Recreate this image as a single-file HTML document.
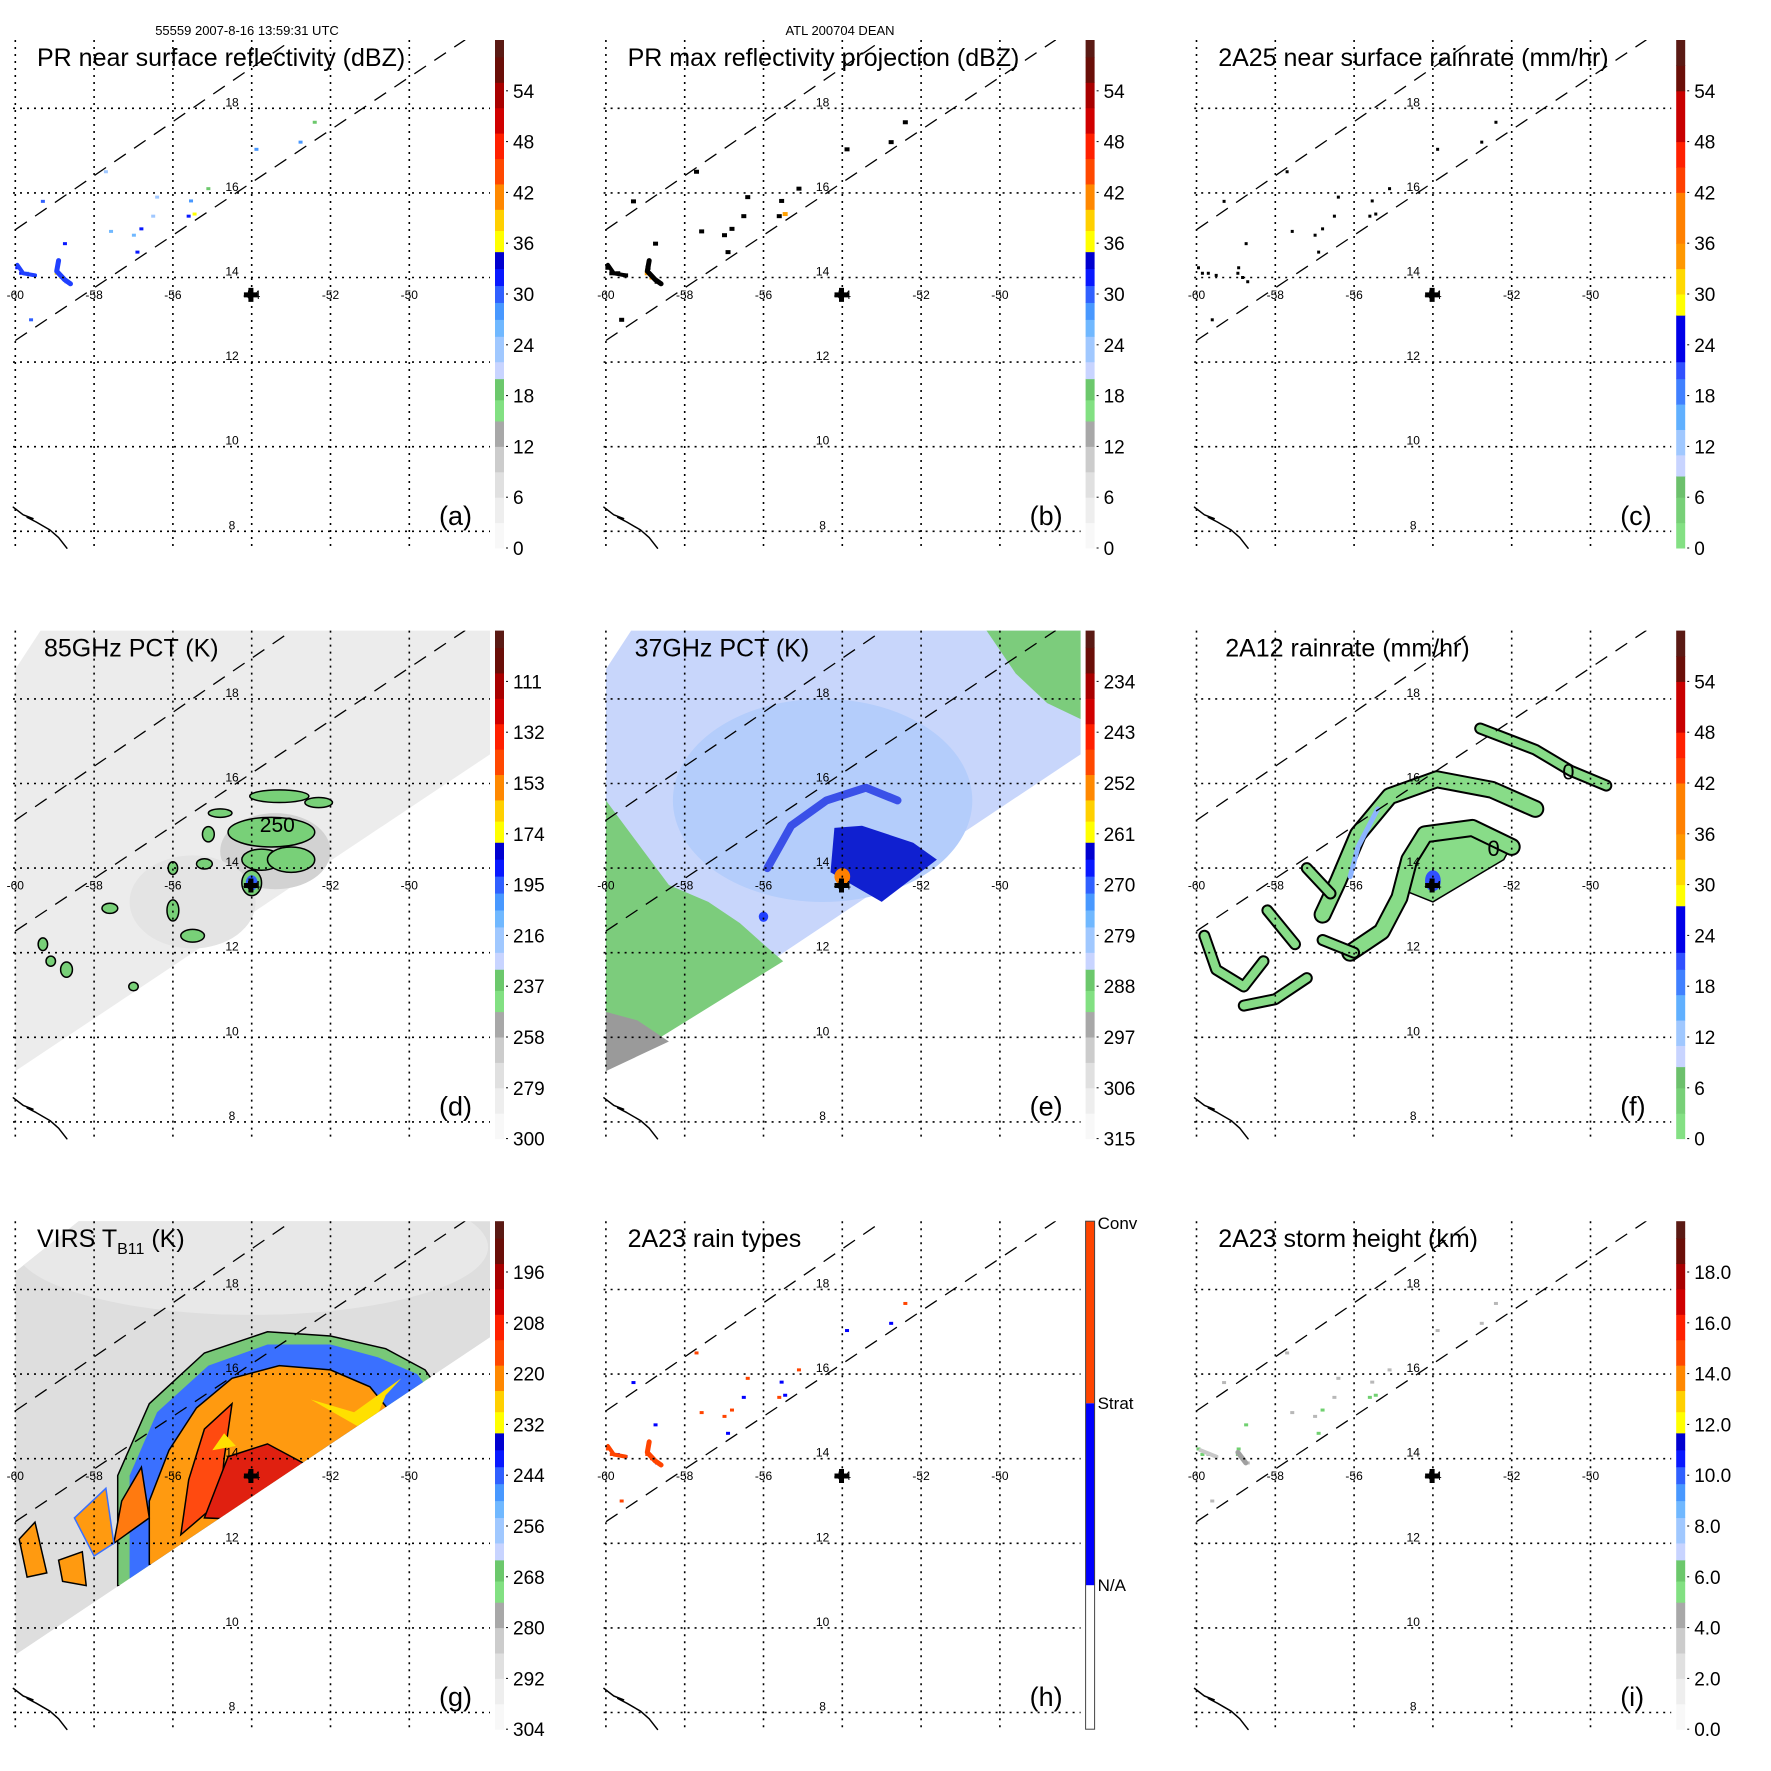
<!DOCTYPE html>
<html><head><meta charset="utf-8"><style>
html,body{margin:0;padding:0;background:#fff}
svg{display:block;font-family:"Liberation Sans",sans-serif}
</style></head><body>
<svg id="chart" xmlns="http://www.w3.org/2000/svg" width="1771" height="1771" viewBox="0 0 1771 1771">
<rect width="1771" height="1771" fill="#fff"/>
<text x="247" y="35" font-size="13" text-anchor="middle">55559 2007-8-16 13:59:31 UTC</text>
<text x="840" y="35" font-size="13" text-anchor="middle">ATL 200704 DEAN</text>
</svg>
<script>
const NS='http://www.w3.org/2000/svg';
const svg=document.getElementById('chart');
const lonTicks=[-60,-58,-56,-54,-52,-50];
const latTicks=[18,16,14,12,10,8];
const dbzLabels=['0','6','12','18','24','30','36','42','48','54'];
const rainLabels=['0','6','12','18','24','30','36','42','48','54'];
const pct85Labels=['300','279','258','237','216','195','174','153','132','111'];
const pct37Labels=['315','306','297','288','279','270','261','252','243','234'];
const virsLabels=['304','292','280','268','256','244','232','220','208','196'];
const heightLabels=['0.0','2.0','4.0','6.0','8.0','10.0','12.0','14.0','16.0','18.0'];
const rainTypeLabels=['N/A','Strat','Conv'];
const echoLon=[-59.95,-59.7,-58.93,-58.83,-58.7,-58.74,-57.57,-56.99,-56.9,-56.8,-56.5,-56.4,-55.54,-55.6,-55.1,-53.88,-52.76,-52.4,-57.7,-59.3,-59.6,-59.85,-59.5,-58.95,-55.45];
const echoLat=[14.23,14.1,14.23,14.0,13.9,14.8,15.09,15.0,14.6,15.15,15.45,15.9,15.81,15.45,16.1,17.03,17.2,17.67,16.5,15.8,13.0,14.1,14.05,14.1,15.5];
const echoDbz=[31,27,33,36,30,31,26,25,32,31,24,23,27,31,19,28,27,18,23,30,29,32,26,38,36];
const echoType=[2,1,1,2,1,1,2,2,1,2,1,2,1,2,2,1,1,2,2,1,2,2,1,2,1];
const crossLon=-54.02, crossLat=13.59;
const coastLon=[-60.05,-59.8,-59.55,-59.7,-59.47,-59.12,-58.9,-58.69];
const coastLat=[8.57,8.39,8.3,8.33,8.22,8.03,7.85,7.6];

function el(tag,attrs,parent){const e=document.createElementNS(NS,tag);for(const k in attrs)e.setAttribute(k,attrs[k]);(parent||svg).appendChild(e);return e;}
const dbzPal=[[0,3,'#f8f8f8'],[3,6,'#eeeeee'],[6,9,'#e0e0e0'],[9,12,'#cccccc'],[12,15,'#a8a8a8'],[15,17.5,'#82e082'],[17.5,20,'#6cc86c'],[20,22,'#c8d4ff'],[22,25,'#a0c8ff'],[25,27,'#70b8ff'],[27,29,'#4898ff'],[29,31,'#3060ff'],[31,33,'#0818ff'],[33,35,'#0000d0'],[35,37.5,'#ffff00'],[37.5,40,'#ffd000'],[40,43,'#ff8800'],[43,46,'#ff4800'],[46,49,'#ff2000'],[49,52,'#d00000'],[52,55,'#a80000'],[55,58,'#6a0e08'],[58,60,'#5a1a14']];
const rainPal=[[0,3,'#84e084'],[3,6,'#78d078'],[6,8.5,'#6cc06c'],[8.5,11,'#c8d4ff'],[11,14,'#a0c8ff'],[14,17,'#60b0ff'],[17,20,'#4080ff'],[20,22,'#3050ff'],[22,27.5,'#0000e8'],[27.5,30,'#ffff00'],[30,33,'#ffd800'],[33,36,'#ff9800'],[36,42,'#ff8000'],[42,45,'#ff4000'],[45,48,'#ff2000'],[48,54,'#c80000'],[54,57,'#6a0e08'],[57,60,'#5a1a14']];
function palColor(pal,v){for(const s of pal){if(v>=s[0]&&v<s[1])return s[2];}return pal[pal.length-1][2];}

const panels=[
 {id:'a',col:0,row:0,title:'PR near surface reflectivity (dBZ)',tx:37,pal:dbzPal,labels:dbzLabels,field:'pr'},
 {id:'b',col:1,row:0,title:'PR max reflectivity projection (dBZ)',tx:37,pal:dbzPal,labels:dbzLabels,field:'prmax'},
 {id:'c',col:2,row:0,title:'2A25 near surface rainrate (mm/hr)',tx:37,pal:rainPal,labels:rainLabels,field:'rr'},
 {id:'d',col:0,row:1,title:'85GHz PCT (K)',tx:44,pal:dbzPal,labels:pct85Labels,field:'p85'},
 {id:'e',col:1,row:1,title:'37GHz PCT (K)',tx:44,pal:dbzPal,labels:pct37Labels,field:'p37'},
 {id:'f',col:2,row:1,title:'2A12 rainrate (mm/hr)',tx:44,pal:rainPal,labels:rainLabels,field:'a12'},
 {id:'g',col:0,row:2,title:'VIRS',tx:37,pal:dbzPal,labels:virsLabels,field:'virs'},
 {id:'h',col:1,row:2,title:'2A23 rain types',tx:37,pal:null,labels:rainTypeLabels,field:'types'},
 {id:'i',col:2,row:2,title:'2A23 storm height (km)',tx:37,pal:dbzPal,labels:heightLabels,field:'sh'}
];
function PX(p,lon){return p.ox+15.3+(lon+60)*39.4;}
function PY(p,lat){return p.oy+108.3+(18-lat)*42.3;}
function pts(p,arr){return arr.map(a=>PX(p,a[0]).toFixed(1)+','+PY(p,a[1]).toFixed(1)).join(' ');}
function poly(p,g,arr,fill,stroke,name){const e=el('polygon',{points:pts(p,arr),fill:fill,stroke:stroke||'none','stroke-width':1.5},g);return e;}
function ell(p,g,lon,lat,rx,ry,fill,stroke,name){const e=el('ellipse',{cx:PX(p,lon),cy:PY(p,lat),rx:rx*39.4,ry:ry*42.3,fill:fill,stroke:stroke||'none','stroke-width':1.5},g);return e;}
function line(p,g,arr,stroke,w,name){const e=el('polyline',{points:pts(p,arr),fill:'none',stroke:stroke,'stroke-width':w,'stroke-linejoin':'round','stroke-linecap':'round'},g);return e;}

const swathPMW=[[-60,18.7],[-59.3,19.7],[-47.9,19.7],[-47.9,16.72],[-60,9.2]];
const swathVIRS=[[-60,18.42],[-58.28,19.7],[-47.9,19.7],[-47.9,16.9],[-60,9.36]];
const d85Blobs=[[-53.5,14.85,1.1,0.35],[-53.75,14.2,0.5,0.25],[-53.0,14.2,0.6,0.3],[-54.0,13.65,0.25,0.3],[-53.3,15.7,0.75,0.15],[-52.3,15.55,0.35,0.12],[-54.8,15.3,0.3,0.1],[-55.1,14.8,0.15,0.18],[-55.2,14.1,0.2,0.12],[-56.0,14.0,0.12,0.15],[-56.0,13.0,0.15,0.25],[-55.5,12.4,0.3,0.15],[-57.6,13.05,0.2,0.12],[-59.3,12.2,0.12,0.15],[-58.7,11.6,0.15,0.18],[-59.1,11.8,0.12,0.12],[-57.0,11.2,0.12,0.1]];
const f12Bands=[
 [[-52.0,14.5],[-53.0,14.95],[-54.2,14.8],[-54.6,14.2],[-54.85,13.3],[-55.3,12.5],[-56.1,12.0]],
 [[-51.4,15.4],[-52.5,15.85],[-53.9,16.1],[-55.1,15.7],[-55.9,14.8],[-56.4,13.7],[-56.8,12.9]],
 [[-52.8,17.3],[-51.4,16.8],[-50.5,16.3],[-49.6,15.95]],
 [[-59.8,12.4],[-59.5,11.6],[-58.8,11.2],[-58.3,11.8]],
 [[-58.8,10.75],[-58.0,10.9],[-57.2,11.4]],
 [[-58.2,13.0],[-57.5,12.2]],[[-56.8,12.3],[-56.0,12.0]],[[-57.2,14.0],[-56.6,13.4]]
];

panels.forEach(p=>{
 p.ox=p.col*590.6; p.oy=p.row*590.6;
 const g=el('g',{});
 
 
 const cid='clip'+p.id;
 const cp=el('clipPath',{id:cid},g);
 el('rect',{x:p.ox+13,y:p.oy+40,width:477,height:508},cp);
 const fg=el('g',{'clip-path':'url(#'+cid+')'},g);
 
 
 drawField(p,fg);
 lonTicks.forEach(lon=>{const x=PX(p,lon);const l=el('line',{x1:x,y1:p.oy+40,x2:x,y2:p.oy+550,stroke:'#000','stroke-width':1.6,'stroke-dasharray':'2,5'},g);
  
  
  const t=el('text',{x:x,y:p.oy+299,'font-size':12,'text-anchor':'middle'},g);t.textContent=String(lon);
  
  });
 latTicks.forEach(lat=>{const y=PY(p,lat);const l=el('line',{x1:p.ox+13,y1:y,x2:p.ox+490,y2:y,stroke:'#000','stroke-width':1.6,'stroke-dasharray':'2,5'},g);
  
  
  const t=el('text',{x:p.ox+232,y:y-2,'font-size':12,'text-anchor':'middle'},g);t.textContent=String(lat);
  
  });
 const sc=el('g',{'clip-path':'url(#'+cid+')'},g);
 const s1=line(p,sc,[[-60,15.13],[-52.97,19.62]],'#000',1.3,'swath-edge-upper');s1.setAttribute('stroke-dasharray','14,10');s1.setAttribute('stroke-linecap','butt');
 const s2=line(p,sc,[[-60,12.51],[-48.58,19.62]],'#000',1.3,'swath-edge-lower');s2.setAttribute('stroke-dasharray','14,10');s2.setAttribute('stroke-linecap','butt');
 line(p,g,coastLon.map((v,i)=>[v,coastLat[i]]),'#000',1.5,'coastline');
 const cx=PX(p,crossLon),cy=PY(p,crossLat);
 const cr=el('path',{d:`M${cx-7},${cy}H${cx+7}M${cx},${cy-7}V${cy+7}`,stroke:'#000','stroke-width':5},g);
 
 
 const t=el('text',{x:p.ox+p.tx,y:p.oy+66,'font-size':25},g);
 
 
 if(p.id==='g'){t.innerHTML='VIRS T<tspan font-size="16" dy="7">B11</tspan><tspan dy="-7"> (K)</tspan>';}else t.textContent=p.title;
 const lb=el('text',{x:p.ox+439,y:p.oy+525,'font-size':27},g);lb.textContent='('+p.id+')';
 
 
 drawColorbar(p,g);
});

function drawColorbar(p,g){
 const x=p.ox+495,w=9,y0=p.oy+548,h=508;
 if(!p.pal){
  const segs=[[404,548,'#ffffff'],[222,404,'#0000ff'],[40,222,'#ff4400']];
  segs.forEach(s=>{const r=el('rect',{x:x,y:p.oy+s[0],width:w,height:s[1]-s[0],fill:s[2]},g);
   
   });
  const b=el('rect',{x:x,y:p.oy+40,width:w,height:508,fill:'none',stroke:'#444','stroke-width':1},g);
  
  
  [404,222,42].forEach((yy,i)=>{const t=el('text',{x:x+12,y:p.oy+yy+6,'font-size':17},g);t.textContent=p.labels[i];
   
   });
  return;}
 p.pal.forEach(s=>{const ya=y0-s[1]/60*h,yb=y0-s[0]/60*h;const r=el('rect',{x:x,y:ya,width:w,height:yb-ya+0.5,fill:s[2]},g);
  
  });
 p.labels.forEach((lab,i)=>{const yy=y0-i*6/60*h;
  const tk=el('line',{x1:x+11,y1:yy,x2:x+13,y2:yy,stroke:'#000','stroke-width':1},g);
  
  
  const t=el('text',{x:x+18,y:yy+7,'font-size':19},g);t.textContent=lab;
  
  });
}

function drawField(p,g){
 const f=p.field;
 if(f==='pr'||f==='prmax'||f==='rr'||f==='types'||f==='sh'){
  echoLon.forEach((lon,i)=>{
   let c,w=4,h=3;
   if(f==='pr')c=palColor(dbzPal,echoDbz[i]);
   else if(f==='prmax'){c=echoDbz[i]>35?'#ffa000':'#000';w=5;h=4;}
   else if(f==='rr'){c='#000';w=3;h=3;}
   else if(f==='types')c=echoType[i]===2?'#ff4400':'#0000ff';
   else c=echoDbz[i]>30?'#70d070':'#b8b8b8';
   const r=el('rect',{x:PX(p,lon)-w/2,y:PY(p,echoLat[i])-h/2,width:w,height:h,fill:c},g);
   
   
  });
  if(f==='pr'||f==='prmax'||f==='types'){
   const c1=f==='pr'?'#2040ff':(f==='types'?'#ff4400':'#000');
   line(p,g,[[-59.95,14.3],[-59.8,14.1],[-59.5,14.05]],c1,4,'echo-cluster');
   line(p,g,[[-58.9,14.4],[-58.95,14.15],[-58.75,13.95],[-58.6,13.85]],c1,5,'echo-cluster');
  }
  if(f==='sh'){line(p,g,[[-58.95,14.15],[-58.75,13.9]],'#a0a0a0',5,'echo-cluster');line(p,g,[[-59.9,14.2],[-59.5,14.05]],'#c8c8c8',4,'echo-cluster');}
  return;}
 if(f==='p85'){
  poly(p,g,swathPMW,'#ececec','none','swath-background');
  ell(p,g,-53.4,14.4,1.4,0.9,'#d2d2d2','none','cold-region');
  ell(p,g,-55.5,13.2,1.6,1.1,'#e4e4e4','none','cold-region');
  d85Blobs.forEach(b=>ell(p,g,b[0],b[1],b[2],b[3],'#78d078','#000','scattering-blob'));
  ell(p,g,-54.0,13.65,0.15,0.18,'#3060ff','none','scattering-core');
  const t=el('text',{x:PX(p,-53.35),y:PY(p,14.85),'font-size':21,'text-anchor':'middle'},g);t.textContent='250';
  
  
  return;}
 if(f==='p37'){
  poly(p,g,swathPMW,'#c8d6fb','none','swath-background');
  ell(p,g,-54.5,15.6,3.8,2.4,'#b4cdfb','none','moist-region');
  poly(p,g,[[-60,15.6],[-59.2,14.6],[-58.4,13.6],[-57.4,13.2],[-56.6,12.7],[-56,12.2],[-55.5,11.8],[-60,9.2]],'#7ccc7c','none','land-region');
  poly(p,g,[[-60,10.6],[-59.2,10.4],[-58.4,9.9],[-60,9.2]],'#9a9a9a','none','land-cold');
  poly(p,g,[[-50.4,19.7],[-47.9,19.7],[-47.9,17.5],[-48.8,17.9],[-49.6,18.6]],'#7ccc7c','none','land-region');
  line(p,g,[[-55.9,14.0],[-55.3,15.0],[-54.4,15.6],[-53.4,15.9],[-52.6,15.6]],'#3a50e8',8,'eyewall-ring');
  poly(p,g,[[-54.2,14.95],[-53.5,15.0],[-52.2,14.6],[-51.6,14.2],[-53.0,13.2],[-54.3,13.9]],'#1020d0','none','deep-convection');
  ell(p,g,-54.0,13.8,0.2,0.2,'#ff8000','none','ice-core');
  ell(p,g,-56.0,12.85,0.12,0.12,'#2040ff','none','ice-core');
  return;}
 if(f==='a12'){
  poly(p,g,[[-52,14.55],[-53.2,14.95],[-54.4,14.8],[-54.8,13.5],[-54.0,13.2],[-52.2,14.2]],'#88dc88','#000','rain-area');
  f12Bands.forEach((b,i)=>{line(p,g,b,'#000',i<2?18:12,'rain-band-outline');line(p,g,b,'#88dc88',i<2?14:8,'rain-band');});
  line(p,g,[[-55.4,15.4],[-55.9,14.5],[-56.1,13.8]],'#8cb4ff',5,'rain-core');
  ell(p,g,-54.0,13.7,0.2,0.25,'#3050ff','none','rain-core');
  [[-52.46,14.29],[-50.56,16.1]].forEach(q=>{const t=el('text',{x:PX(p,q[0]),y:PY(p,q[1]),'font-size':22,'text-anchor':'middle'},g);t.textContent='0';
   
   });
  return;}
 if(f==='virs'){
  const sg=el('g',{});g.appendChild(sg);
  const cid='vclip'+p.id;const cp=el('clipPath',{id:cid},g);el('polygon',{points:pts(p,swathVIRS)},cp);
  sg.setAttribute('clip-path','url(#'+cid+')');
  poly(p,sg,swathVIRS,'#dedede','none','swath-background');
  ell(p,sg,-54,19,6,1.6,'#e8e8e8','none','clear-region');
  poly(p,sg,[[-57.4,11.0],[-57.4,13.6],[-56.6,15.3],[-55.2,16.5],[-53.6,17.0],[-52,16.9],[-50.6,16.6],[-49.6,16.1],[-45,10]],'#78c878','#000','cloud-edge');
  poly(p,sg,[[-57.1,11.0],[-57.1,13.6],[-56.4,15.1],[-55.1,16.2],[-53.6,16.7],[-52,16.7],[-50.8,16.4],[-49.8,16.0],[-45,10]],'#3a70ff','none','cloud-ring');
  poly(p,sg,[[-56.6,11.5],[-56.6,13.0],[-56.1,14.2],[-55.4,15.2],[-54.5,15.9],[-53.3,16.2],[-52.0,16.1],[-51.0,15.7],[-46,10]],'#ff9a10','#000','cold-top');
  poly(p,sg,[[-52.5,15.4],[-51.4,15.1],[-50.2,15.9],[-50.6,15.5],[-51,14.6]],'#ffe000','none','cold-top-yellow');
  poly(p,sg,[[-55.8,12.2],[-55.6,13.5],[-55.2,14.7],[-54.5,15.3],[-54.7,14.0],[-54.8,13.0]],'#ff4a10','#000','very-cold-top');
  poly(p,sg,[[-55.2,12.6],[-54.6,14.05],[-53.6,14.35],[-52.7,13.9],[-52.5,12.5]],'#e02010','#000','coldest-top');
  poly(p,sg,[[-57.5,12.0],[-57.3,13.0],[-56.8,13.8],[-56.6,12.6]],'#ff7a10','#000','cold-cell');
  poly(p,sg,[[-59.9,12.1],[-59.5,12.5],[-59.2,11.3],[-59.7,11.2]],'#ff9a10','#000','cold-cell');
  poly(p,sg,[[-58.9,11.6],[-58.3,11.8],[-58.2,11.0],[-58.8,11.1]],'#ff9a10','#000','cold-cell');
  poly(p,sg,[[-58.5,12.6],[-57.7,13.3],[-57.5,12.0],[-58.0,11.7]],'#ff9a10','#3a70ff','cold-cell');
  poly(p,sg,[[-55.0,14.2],[-54.7,14.6],[-54.4,14.3]],'#ffe000','none','cold-top-yellow');
  return;}
}
</script>
</body></html>
